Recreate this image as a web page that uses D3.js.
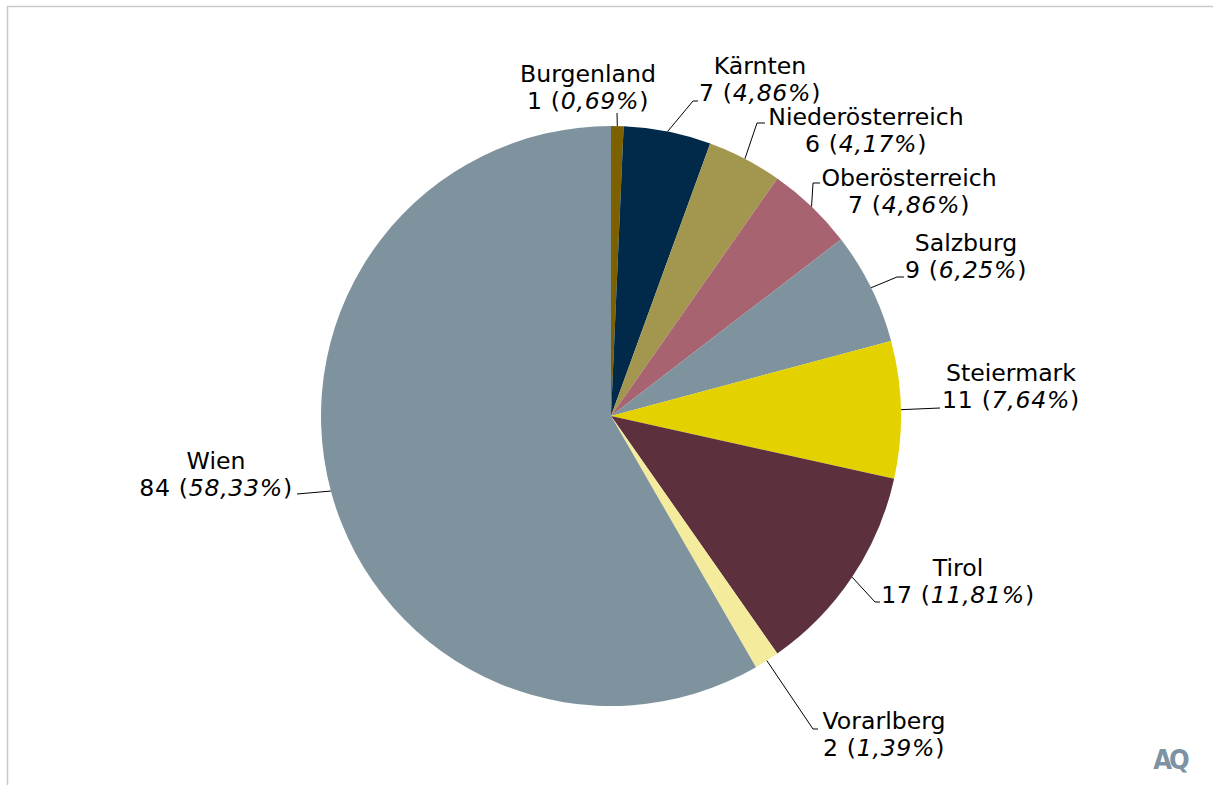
<!DOCTYPE html>
<html>
<head>
<meta charset="utf-8">
<script src="https://cdn.jsdelivr.net/npm/d3@7"></script>
<style>
  html, body { margin: 0; padding: 0; background: #fff; }
  svg { display: block; }
  text { font-family: "DejaVu Sans", Verdana, sans-serif; fill: #000; }
</style>
</head>
<body>
<svg id="chart" width="1213" height="785"></svg>
<script>
// Bundesländer, clockwise from 12 o'clock
const laender = ["Burgenland", "Kärnten", "Niederösterreich", "Oberösterreich", "Salzburg",
    "Steiermark", "Tirol", "Vorarlberg", "Wien"];
const anzahl = [1, 7, 6, 7, 9, 11, 17, 2, 84];
const farben = ["#7d6100", "#00294a", "#a3964f", "#a86371", "#7f939f",
    "#e4d200", "#5c303c", "#f4eb9c", "#7f939f"];

// label placement (text centre x / first baseline y, and leader elbow), relative to pie centre
const labelLayout = {
    "Burgenland":       {tx: -23, ty: -334, ex: 6,   ey: -303, dx: 0},
    "Kärnten":          {tx: 149, ty: -342, ex: 82,  ey: -315, dx: 5},
    "Niederösterreich": {tx: 255, ty: -291, ex: 146, ey: -293, dx: 8},
    "Oberösterreich":   {tx: 298, ty: -230, ex: 202, ey: -233, dx: 7},
    "Salzburg":         {tx: 355, ty: -165, ex: 286, ey: -139, dx: 7},
    "Steiermark":       {tx: 400, ty: -35,  ex: 329, ey: -8,   dx: 0},
    "Tirol":            {tx: 347, ty: 160,  ex: 264, ey: 186,  dx: 5},
    "Vorarlberg":       {tx: 273, ty: 313,  ex: 202, ey: 313,  dx: 5},
    "Wien":             {tx: -395, ty: 53,  ex: -314, ey: 78,  dx: 0}
};

const width = 1213, height = 785;
const cx = 611, cy = 416, radius = 290;
const total = d3.sum(anzahl);

const svg = d3.select("#chart");

// frame
svg.append("path")
    .attr("d", `M7.5,${height} V6.5 H${width}`)
    .attr("fill", "none")
    .attr("stroke", "#c9c9c9")
    .attr("stroke-width", 1.5);

const data = laender.map((name, i) => ({name: name, value: anzahl[i], color: farben[i]}));

const pie = d3.pie().sort(null).value(d => d.value);
const arc = d3.arc().innerRadius(0).outerRadius(radius);

const g = svg.append("g").attr("transform", `translate(${cx},${cy})`);

const arcs = pie(data);

g.selectAll("path.slice")
    .data(arcs)
    .enter().append("path")
    .attr("class", "slice")
    .attr("d", arc)
    .attr("fill", d => d.data.color);

const fmt = v => (v / total * 100).toFixed(2).replace(".", ",") + "%";

// leader lines
g.selectAll("path.leader")
    .data(arcs)
    .enter().append("path")
    .attr("class", "leader")
    .attr("fill", "none")
    .attr("stroke", "#000")
    .attr("stroke-width", 1)
    .attr("d", d => {
        let a = (d.startAngle + d.endAngle) / 2;
        let p0 = [radius * Math.sin(a), -radius * Math.cos(a)];
        let l = labelLayout[d.data.name];
        let path = d3.path();
        path.moveTo(p0[0], p0[1]);
        path.lineTo(l.ex, l.ey);
        if (l.dx) path.lineTo(l.ex + (l.ex > 0 ? l.dx : -l.dx), l.ey);
        return path.toString();
    });

// labels
let labels = g.selectAll("text.label")
    .data(arcs)
    .enter().append("text")
    .attr("class", "label")
    .attr("text-anchor", "middle")
    .attr("font-size", 23.6)
    .attr("transform", d => `translate(${labelLayout[d.data.name].tx},${labelLayout[d.data.name].ty})`);

labels.append("tspan")
    .attr("x", 0).attr("y", 0)
    .text(d => d.data.name);

let line2 = labels.append("tspan")
    .attr("x", 0).attr("y", 27)
    .attr("letter-spacing", 0.7);
line2.append("tspan").text(d => d.data.value + " (");
line2.append("tspan").attr("font-style", "italic").text(d => fmt(d.data.value));
line2.append("tspan").text(")");

// logo
svg.append("text")
    .attr("x", 1170).attr("y", 769)
    .attr("text-anchor", "middle")
    .attr("font-size", 27)
    .attr("font-weight", "bold")
    .attr("letter-spacing", -3)
    .style("font-family", "'DejaVu Sans Condensed', 'DejaVu Sans', sans-serif")
    .style("fill", "#7d93a3")
    .text("AQ");
</script>
</body>
</html>
